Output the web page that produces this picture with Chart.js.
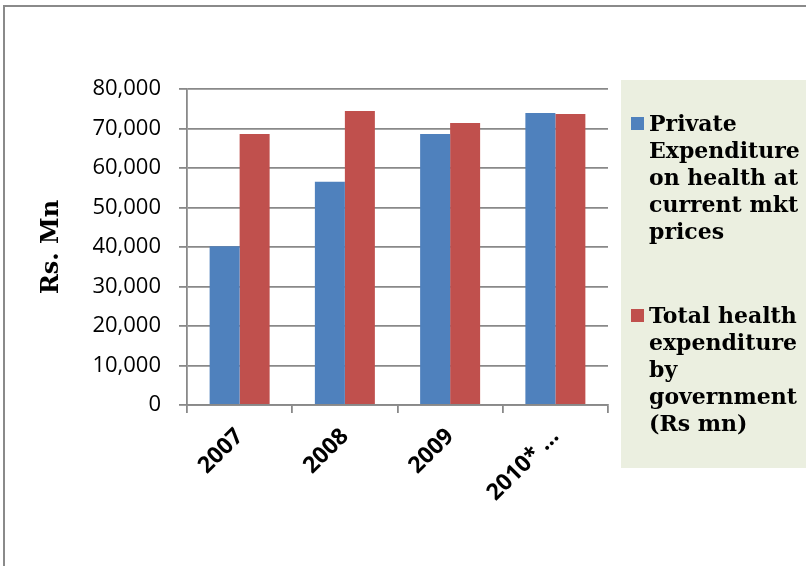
<!DOCTYPE html>
<html>
<head>
<meta charset="utf-8">
<script src="https://cdn.jsdelivr.net/npm/chart.js@4.4.0/dist/chart.umd.min.js"></script>
<style>
  html, body { margin: 0; padding: 0; background: #fff; }
  #wrap { position: relative; width: 806px; height: 566px; overflow: hidden; }
  #frame { position: absolute; left: 3px; top: 5px; width: 900px; height: 700px;
           border-top: 2px solid #8a8a8a; border-left: 2px solid #8a8a8a; }
  #legendBox { position: absolute; left: 621px; top: 80px; width: 200px; height: 388px;
               background: #ebefe0; }
  #legend { position: absolute; left: 631px; top: 110px; width: 175px; margin: 0; padding: 0;
            list-style: none; font-family: "DejaVu Serif", serif; font-weight: bold;
            font-size: 22px; line-height: 27px; color: #000; }
  #legend li { position: relative; padding-left: 18px; width: 160px; }
  #legend li + li { margin-top: 57px; }
  #legend .sw { position: absolute; left: 0; top: 7px; width: 13px; height: 13px; }
  canvas { position: absolute; left: 0; top: 0; }
</style>
</head>
<body>
<div id="wrap">
  <div id="frame"></div>
  <div id="legendBox"></div>
  <canvas id="healthChart" width="806" height="566"></canvas>
  <ul id="legend"></ul>
</div>
<script>
const years = ['2007', '2008', '2009', '2010* …'];
const privateSpend = [40200, 56500, 68600, 73900];
const govSpend = [68600, 74400, 71400, 73700];
const yTicks = [0, 10000, 20000, 30000, 40000, 50000, 60000, 70000, 80000];
const seriesNames = [
  'Private Expenditure on health at current mkt prices',
  'Total health expenditure by government (Rs mn)'
];

const gridGrey = '#898989';

const chart = new Chart(document.getElementById('healthChart'), {
  type: 'bar',
  data: {
    labels: years,
    datasets: [
      { label: seriesNames[0], data: privateSpend, backgroundColor: '#4f81bd' },
      { label: seriesNames[1], data: govSpend, backgroundColor: '#c0504d' }
    ]
  },
  options: {
    responsive: false,
    animation: false,
    categoryPercentage: 0.57,
    barPercentage: 1,
    layout: { padding: { left: 0, top: 89, right: 198, bottom: 0 } },
    plugins: { legend: { display: false }, tooltip: { enabled: false } },
    scales: {
      x: {
        grid: { offset: true, drawOnChartArea: false, drawTicks: true, tickLength: 8,
                color: gridGrey, lineWidth: 1.8 },
        border: { color: gridGrey, width: 1.8 },
        ticks: {
          color: '#000', maxRotation: 45, minRotation: 45, padding: 10,
          font: { family: 'Open Sans', weight: 'bold', size: 23 }
        },
        afterFit: s => { s.height = 161; }
      },
      y: {
        min: 0, max: 80000,
        afterBuildTicks: s => { s.ticks = yTicks.map(v => ({ value: v })); },
        grid: { color: gridGrey, lineWidth: 1.8, tickLength: 8 },
        border: { color: gridGrey, width: 1.8 },
        ticks: {
          color: '#000', padding: 18,
          font: { family: 'Open Sans', size: 22 },
          callback: v => v.toLocaleString('en-US')
        },
        title: {
          display: true, text: 'Rs. Mn', color: '#000',
          font: { family: 'DejaVu Serif', weight: 'bold', size: 24 },
          padding: { top: 37, bottom: 0 }
        },
        afterFit: s => { s.width = 187; }
      }
    }
  }
});

// legend built from the chart's datasets
const ul = document.getElementById('legend');
chart.data.datasets.forEach(ds => {
  const li = document.createElement('li');
  const sw = document.createElement('span');
  sw.className = 'sw';
  sw.style.background = ds.backgroundColor;
  li.appendChild(sw);
  li.appendChild(document.createTextNode(ds.label));
  ul.appendChild(li);
});
</script>
</body>
</html>
